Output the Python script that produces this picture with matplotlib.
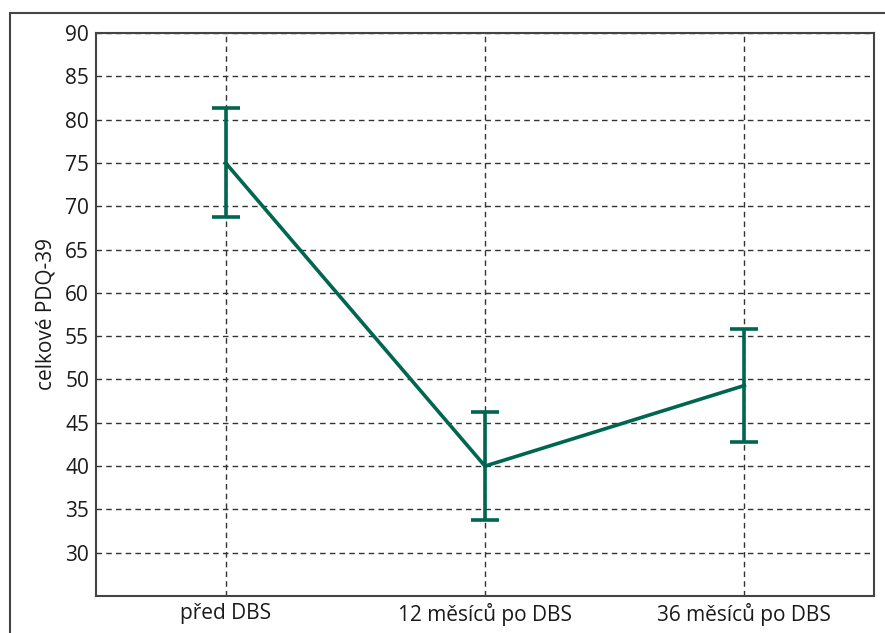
import matplotlib
matplotlib.use("Agg")
import matplotlib.pyplot as plt
from matplotlib.patches import Rectangle

plt.rcParams['font.family'] = ['Open Sans', 'DejaVu Sans']

categories = ["před DBS", "12 měsíců po DBS", "36 měsíců po DBS"]
means = [75.0, 40.0, 49.3]
errors = [6.3, 6.2, 6.5]
yticks = [30, 35, 40, 45, 50, 55, 60, 65, 70, 75, 80, 85, 90]

green = '#00664f'

fig = plt.figure(figsize=(8.85, 6.33), dpi=100)
W, H = 885, 633
ax = fig.add_axes([96 / W, 1 - 596 / H, (874 - 96) / W, (596 - 33) / H])

# outer frame, partly cut off like in the source
fig.patches.append(Rectangle((10 / W, -0.1), 1.2, 1 - 13 / H + 0.1,
                             transform=fig.transFigure, fill=False,
                             edgecolor='#444444', linewidth=1.5))

x = range(len(categories))
ax.errorbar(x, means, yerr=errors, color=green, linewidth=2.6,
            elinewidth=2.6, capsize=10, capthick=2.6, zorder=3)

ax.set_xlim(-0.5, 2.5)
ax.set_ylim(25, 90)
ax.set_yticks(yticks)
ax.set_xticks(list(x))
ax.set_xticklabels(categories)
ax.tick_params(length=0, labelsize=15, colors='#1a1a1a', pad=5)
ax.set_ylabel("celkové PDQ-39", fontsize=15, color='#1a1a1a', labelpad=6)

ax.grid(True, linestyle=(0, (4, 3)), color='#333333', linewidth=1)
ax.set_axisbelow(True)
for s in ax.spines.values():
    s.set_color('#444444')
    s.set_linewidth(1.5)

fig.savefig("out.png", dpi=100)
